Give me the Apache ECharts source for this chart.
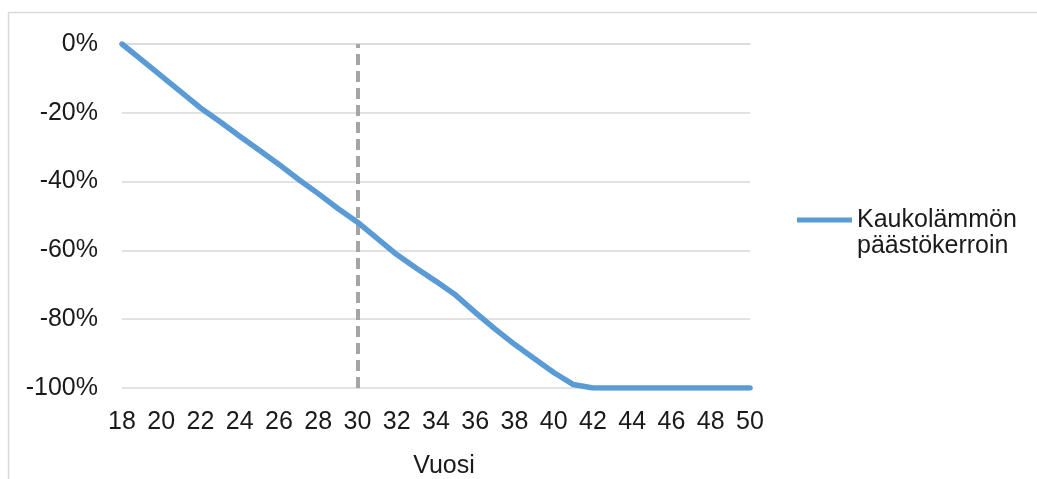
<!DOCTYPE html>
<html>
<head>
<meta charset="utf-8">
<script src="https://cdn.jsdelivr.net/npm/echarts@6/dist/echarts.min.js"></script>
<style>
html,body{margin:0;padding:0;background:#fff;}
#chart{width:1037px;height:479px;}
</style>
</head>
<body>
<div id="chart"></div>
<script>
var years = ['18','19','20','21','22','23','24','25','26','27','28','29','30','31','32','33','34','35','36','37','38','39','40','41','42','43','44','45','46','47','48','49','50'];
var emissionFactor = [0,-4.6,-9.3,-13.9,-18.6,-22.6,-26.8,-30.9,-35.0,-39.4,-43.5,-47.8,-51.8,-56.5,-61.2,-65.2,-69.0,-73.0,-78.0,-82.8,-87.3,-91.4,-95.5,-99.0,-100,-100,-100,-100,-100,-100,-100,-100,-100];
var seriesName = 'Kaukolämmön päästökerroin';
var legendLines = ['Kaukolämmön','päästökerroin'];
var markerYear = '30';
var xAxisName = 'Vuosi';

var FONT = "'Liberation Sans', Arial, sans-serif";
var FS = 25;
var chart = echarts.init(document.getElementById('chart'), null, {renderer:'canvas'});
chart.setOption({
  animation: false,
  backgroundColor: '#ffffff',
  graphic: [{
    type: 'rect', silent: true, z: -1,
    shape: {x: 8.5, y: 12.5, width: 1200, height: 600},
    style: {fill: 'none', stroke: '#d9d9d9', lineWidth: 1.5}
  }],
  grid: {left: 122, right: 287, top: 44, bottom: 91, containLabel: false, outerBoundsMode: 'none'},
  legend: {
    orient: 'vertical',
    left: 797, top: 181, padding: 0,
    itemWidth: 55, itemHeight: 5, itemGap: 0,
    icon: 'rect',
    data: [seriesName],
    formatter: function(){ return ' \n' + legendLines.join('\n'); },
    textStyle: {fontFamily: FONT, fontSize: FS, color: '#1a1a1a', lineHeight: 26}
  },
  xAxis: {
    type: 'category', data: years, boundaryGap: false,
    name: xAxisName, nameLocation: 'middle', nameGap: 66,
    nameTextStyle: {fontFamily: FONT, fontSize: FS, color: '#1a1a1a', padding: [0,0,0,16]},
    axisLine: {show: true, lineStyle: {color: '#d9d9d9', width: 1.5}},
    axisTick: {show: false},
    axisLabel: {interval: 1, margin: 22, fontFamily: FONT, fontSize: FS, color: '#1a1a1a'},
    splitLine: {show: false}
  },
  yAxis: {
    type: 'value', min: -100, max: 0, interval: 20,
    axisLine: {show: false}, axisTick: {show: false},
    axisLabel: {margin: 24, fontFamily: FONT, fontSize: FS, color: '#1a1a1a', formatter: '{value}%'},
    splitLine: {lineStyle: {color: '#d9d9d9', width: 1.5}}
  },
  series: [{
    name: seriesName, type: 'line', data: emissionFactor,
    showSymbol: false, symbol: 'none',
    lineStyle: {color: '#5b9bd5', width: 5.5, cap: 'round', join: 'round'},
    itemStyle: {color: '#5b9bd5'},
    z: 3,
    markLine: {
      silent: true, symbol: ['none','none'], label: {show: false},
      lineStyle: {color: '#a5a5a5', width: 4, type: [11, 6], cap: 'butt'},
      data: [{xAxis: markerYear}],
      z: 2
    }
  }]
});
</script>
</body>
</html>
